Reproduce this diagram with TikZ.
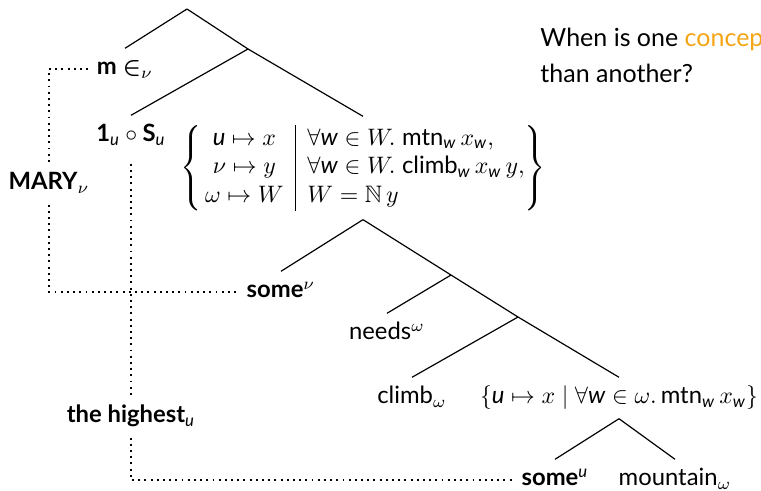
\documentclass[tikz,border=0pt]{standalone}
\usepackage{amsmath,amssymb}
\usepackage{fontspec}
\setmainfont{Lato}
\usetikzlibrary{calc}
\definecolor{hlorange}{RGB}{245,165,20}
\newcommand{\iu}{\textit{u}}
\newcommand{\iw}{\textit{w}}

\begin{document}
\begin{tikzpicture}[x=0.42pt, y=-0.42pt]
    \tikzstyle{leaf} = [inner sep=3.5pt, text height=7.5pt, text depth=2.5pt, font=\normalsize]
    \tikzstyle{branch} = [draw, line width=0.5pt]
    \tikzstyle{trace} = [draw, line width=0.8pt, dash pattern=on 0.8pt off 1.8pt]

    \useasboundingbox (0,0) rectangle (761,490);
    \clip (0,0) rectangle (761,490);

    % Tree nodes
    \coordinate (root) at (187,9);
    \coordinate (rest) at (248,49);
    \node [leaf] (memb) at (125,69) {\textbf{m} $\boldsymbol{\in}_\nu$};
    \node [leaf] (cmp) at (131,136) {$\textbf{1}_{\iu}\circ\textbf{S}_{\iu}$};
    \node [inner sep=3.5pt] (ctx) at (363,168) {$\left\{\begin{array}{@{\,}c|l@{}}
        \iu \mapsto x & \forall \iw \in W.\;\text{mtn}_{\iw}\,x_{\iw}, \\
        \nu \mapsto y & \forall \iw \in W.\;\text{climb}_{\iw}\,x_{\iw}\,y, \\
        \omega \mapsto W & W = \mathbb{N}\,y
      \end{array}\right\}$};
    \node [leaf] (somev) at (281,292) {\textbf{some}$^\nu$};
    \coordinate (vp) at (451,275);
    \node [leaf] (needs) at (387,334) {needs$^\omega$};
    \coordinate (vbar) at (518,317);
    \node [leaf] (climb) at (412,398) {climb$_\omega$};
    \node [leaf] (obj) at (619,398) {$\{\iu \mapsto x \mid \forall \iw \in \omega.\,\text{mtn}_{\iw}\,x_{\iw}\}$};
    \node [leaf] (someu) at (555,480) {\textbf{some}$^{\iu}$};
    \node [leaf] (mountain) at (675,480) {mountain$_\omega$};

    % Binder labels
    \node [leaf] (mary) at (49,184) {\textbf{MARY}$_\nu$};
    \node [leaf] (highest) at (131,417) {\textbf{the highest}$_{\iu}$};

    % Question
    \node [anchor=north west, align=left, inner sep=0pt, font=\fontsize{10.5}{15}\selectfont] (question) at (540,28)
        {When is one \textcolor{hlorange}{concept}\\than another?};

    % Branches
    \path [branch] (root) -- (memb.north);
    \path [branch] (root) -- (rest);
    \path [branch] (rest) -- (cmp.north);
    \path [branch] (rest) -- (ctx.north);
    \path [branch] (ctx.south) -- (somev.north);
    \path [branch] (ctx.south) -- (vp);
    \path [branch] (vp) -- (needs.north);
    \path [branch] (vp) -- (vbar);
    \path [branch] (vbar) -- (climb.north);
    \path [branch] (vbar) -- (obj.north);
    \path [branch] (obj.south) -- (someu.north);
    \path [branch] (obj.south) -- (mountain.north);

    % Binding lines
    \path [trace] (memb.west) -| (mary.north);
    \path [trace] (mary.south) |- (somev.west);
    \path [trace, shorten <=3pt] (cmp.south) -- (highest.north);
    \path [trace] (highest.south) |- (someu.west);
\end{tikzpicture}
\end{document}
